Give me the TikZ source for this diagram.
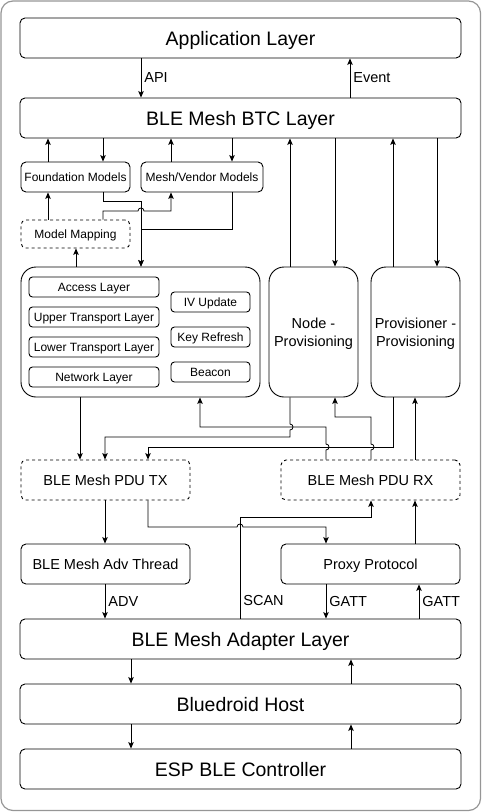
\documentclass[tikz,border=0pt]{standalone}
\usepackage{fontspec}
\setmainfont{Liberation Sans}
\usetikzlibrary{arrows.meta}
\definecolor{framegray}{RGB}{150,150,150}
\begin{document}
\begin{tikzpicture}[x=1pt,y=-1pt,
  box/.style={draw=black, line width=0.9pt, rounded corners=5pt, inner sep=0pt, align=center, text depth=0pt},
  dbox/.style={box, dash pattern=on 3pt off 3pt},
  tbox/.style={box, rounded corners=3.5pt},
  bigbox/.style={box, rounded corners=15pt},
  bigf/.style={font=\fontsize{19.5}{22}\selectfont},
  midf/.style={font=\fontsize{14.5}{18}\selectfont},
  smallf/.style={font=\fontsize{12}{14}\selectfont},
  conn/.style={draw=black, line width=0.8pt},
  arr/.style={conn, -{Stealth[length=6.5pt,width=5.5pt,inset=1.5pt]}},
  lbl/.style={font=\fontsize{14.5}{18}\selectfont, inner sep=3pt, anchor=west}
]
\useasboundingbox (0,0) rectangle (482,812);
\draw[framegray, line width=1.2pt, rounded corners=12pt] (1,1) rectangle (480.5,810.5);

% layers
\node[box,bigf,minimum width=441pt,minimum height=40pt] (app) at (240.5,38) {Application Layer};
\node[box,bigf,minimum width=441pt,minimum height=40pt] (btc) at (240.5,118) {BLE Mesh BTC Layer};
\node[box,smallf,minimum width=109pt,minimum height=30pt] (found) at (75.5,177) {Foundation Models};
\node[box,smallf,minimum width=122pt,minimum height=30pt] (vendor) at (202,177) {Mesh/Vendor Models};
\node[dbox,smallf,minimum width=109pt,minimum height=28pt] (mapping) at (75.5,234) {Model Mapping};

\node[bigbox,minimum width=239pt,minimum height=130pt] (core) at (140.5,332) {};
\node[tbox,smallf,minimum width=130pt,minimum height=20pt] (access) at (94,287) {Access Layer};
\node[tbox,smallf,minimum width=130pt,minimum height=20pt] (upper) at (94,317) {Upper Transport Layer};
\node[tbox,smallf,minimum width=130pt,minimum height=20pt] (lower) at (94,347) {Lower Transport Layer};
\node[tbox,smallf,minimum width=130pt,minimum height=20pt] (network) at (94,377) {Network Layer};
\node[tbox,smallf,minimum width=79pt,minimum height=20pt] (iv) at (210.5,302) {IV Update};
\node[tbox,smallf,minimum width=79pt,minimum height=20pt] (key) at (210.5,337) {Key Refresh};
\node[tbox,smallf,minimum width=79pt,minimum height=20pt] (beacon) at (210.5,372) {Beacon};

\node[bigbox,midf,minimum width=89pt,minimum height=130pt] (nodeprov) at (313.5,332) {Node -\\Provisioning};
\node[bigbox,midf,minimum width=89pt,minimum height=130pt] (provprov) at (415.5,332) {Provisioner -\\Provisioning};

\node[dbox,midf,minimum width=169pt,minimum height=40pt] (pdutx) at (105.5,480) {BLE Mesh PDU TX};
\node[dbox,midf,minimum width=179pt,minimum height=40pt] (pdurx) at (370.5,480) {BLE Mesh PDU RX};
\node[box,midf,minimum width=169pt,minimum height=40pt] (adv) at (105.5,564) {BLE Mesh Adv Thread};
\node[box,midf,minimum width=179pt,minimum height=40pt] (proxy) at (370.5,564) {Proxy Protocol};

\node[box,bigf,minimum width=441pt,minimum height=40pt] (adapter) at (240.5,639) {BLE Mesh Adapter Layer};
\node[box,bigf,minimum width=441pt,minimum height=40pt] (bluedroid) at (240.5,704) {Bluedroid Host};
\node[box,bigf,minimum width=441pt,minimum height=40pt] (esp) at (240.5,769) {ESP BLE Controller};

% app <-> btc
\draw[arr] (app.south -| 141,0) -- node[lbl]{API} (btc.north -| 141,0);
\draw[arr] (btc.north -| 350,0) -- node[lbl]{Event} (app.south -| 350,0);

% btc <-> models / provisioning
\draw[arr] (found.north -| 48,0) -- (btc.south -| 48,0);
\draw[arr] (btc.south -| 103,0) -- (found.north -| 103,0);
\draw[arr] (vendor.north -| 171,0) -- (btc.south -| 171,0);
\draw[arr] (btc.south -| 232,0) -- (vendor.north -| 232,0);
\draw[arr] (nodeprov.north -| 290,0) -- (btc.south -| 290,0);
\draw[arr] (btc.south -| 335,0) -- (nodeprov.north -| 335,0);
\draw[arr] (provprov.north -| 393,0) -- (btc.south -| 393,0);
\draw[arr] (btc.south -| 437,0) -- (provprov.north -| 437,0);

% model mapping
\draw[arr] (mapping.north -| 48,0) -- (found.south -| 48,0);
\draw[arr] (mapping.north -| 103,0) -- (103,211) -- (138,211) .. controls (138,207) and (144,207) .. (144,211) -- (171,211) -- (vendor.south -| 171,0);
\draw[arr] (found.south -| 103,0) -- (103,201) -- (141,201) -- (core.north -| 141,0);
\draw[arr] (vendor.south -| 232,0) -- (232,229) -- (141,229) -- (core.north -| 141,0);
\draw[arr] (core.north -| 76,0) -- (mapping.south -| 76,0);

% core / provisioning <-> PDU
\draw[arr] (core.south -| 80,0) -- (pdutx.north -| 80,0);
\draw[arr] (pdurx.north -| 326,0) -- (326,450) .. controls (330,450) and (330,444) .. (326,444) -- (326,427) -- (200,427) -- (core.south -| 200,0);
\draw[arr] (nodeprov.south -| 290,0) -- (290,424) .. controls (294,424) and (294,430) .. (290,430) -- (290,437) -- (105,437) -- (pdutx.north -| 105,0);
\draw[arr] (provprov.south -| 393,0) -- (393,447) -- (148,447) -- (pdutx.north -| 148,0);
\draw[arr] (pdurx.north -| 371,0) -- (371,450) .. controls (375,450) and (375,444) .. (371,444) -- (371,417) -- (335,417) -- (nodeprov.south -| 335,0);
\draw[arr] (pdurx.north -| 415,0) -- (provprov.south -| 415,0);

% PDU <-> adv / proxy
\draw[arr] (pdutx.south -| 105,0) -- (adv.north -| 105,0);
\draw[arr] (pdutx.south -| 148,0) -- (148,527) -- (237,527) .. controls (237,523) and (243,523) .. (243,527) -- (326,527) -- (proxy.north -| 326,0);
\draw[arr] (adapter.north -| 240,0) -- node[lbl,pos=0.18]{SCAN} (240,517) -- (371,517) -- (pdurx.south -| 371,0);
\draw[arr] (proxy.north -| 415,0) -- (pdurx.south -| 415,0);

% adv / proxy <-> adapter
\draw[arr] (adv.south -| 105,0) -- node[lbl]{ADV} (adapter.north -| 105,0);
\draw[arr] (proxy.south -| 326,0) -- node[lbl]{GATT} (adapter.north -| 326,0);
\draw[arr] (adapter.north -| 419,0) -- node[lbl]{GATT} (proxy.south -| 419,0);

% lower stack
\draw[arr] (adapter.south -| 131,0) -- (bluedroid.north -| 131,0);
\draw[arr] (bluedroid.north -| 351,0) -- (adapter.south -| 351,0);
\draw[arr] (bluedroid.south -| 131,0) -- (esp.north -| 131,0);
\draw[arr] (esp.north -| 351,0) -- (bluedroid.south -| 351,0);
\end{tikzpicture}
\end{document}
